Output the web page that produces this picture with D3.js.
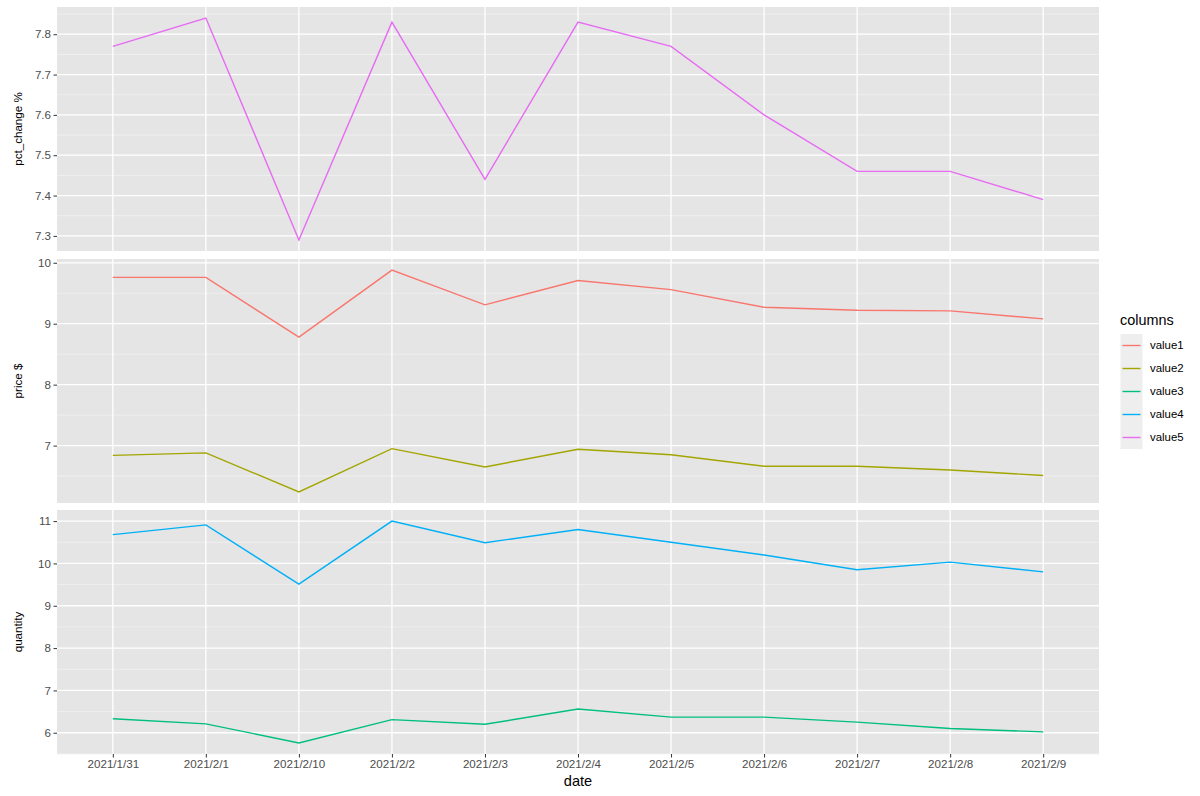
<!DOCTYPE html>
<html>
<head>
<meta charset="utf-8">
<script src="https://cdn.jsdelivr.net/npm/d3@7"></script>
<style>
  body { margin: 0; background: #fff; }
  svg { display: block; font-family: "Liberation Sans", Arial, Helvetica, sans-serif; }
  .tick-label { fill: #4d4d4d; font-size: 11.6px; }
  .axis-title { fill: #000; }
</style>
</head>
<body>
<div id="chart"></div>
<script>
// data
const dates = ['2021/1/31', '2021/2/1', '2021/2/10', '2021/2/2', '2021/2/3', '2021/2/4',
               '2021/2/5', '2021/2/6', '2021/2/7', '2021/2/8', '2021/2/9'];
const value1 = [9.76, 9.76, 8.78, 9.88, 9.31, 9.71, 9.56, 9.27, 9.22, 9.21, 9.08];
const value2 = [6.84, 6.88, 6.24, 6.95, 6.65, 6.94, 6.85, 6.66, 6.66, 6.60, 6.51];
const value3 = [6.33, 6.21, 5.76, 6.31, 6.20, 6.56, 6.37, 6.37, 6.25, 6.10, 6.02];
const value4 = [10.68, 10.91, 9.51, 11.00, 10.49, 10.80, 10.50, 10.20, 9.85, 10.03, 9.80];
const value5 = [7.77, 7.84, 7.29, 7.83, 7.44, 7.83, 7.77, 7.60, 7.46, 7.46, 7.39];

const seriesNames = ['value1', 'value2', 'value3', 'value4', 'value5'];
const seriesColors = ['#F8766D', '#A3A500', '#00BF7D', '#00B0F6', '#E76BF3'];

const pctTicks = [7.3, 7.4, 7.5, 7.6, 7.7, 7.8];
const priceTicks = [7, 8, 9, 10];
const qtyTicks = [6, 7, 8, 9, 10, 11];

const allValues = {value1, value2, value3, value4, value5};

const panels = [
  {title: 'pct_change %', keys: ['value5'], ticks: pctTicks, fmt: d3.format('.1f'), top: 7, bottom: 251},
  {title: 'price $', keys: ['value1', 'value2'], ticks: priceTicks, fmt: d3.format('d'), top: 259, bottom: 503},
  {title: 'quantity', keys: ['value4', 'value3'], ticks: qtyTicks, fmt: d3.format('d'), top: 510, bottom: 754}
];

const W = 1200, H = 796;
const left = 57, right = 1099;

const svg = d3.select('#chart').append('svg')
    .attr('width', W)
    .attr('height', H);

// discrete x scale, ggplot style expansion of 0.6 units on each side
const xScale = d3.scalePoint()
    .domain(dates)
    .range([left, right])
    .padding(0.6);

const color = d3.scaleOrdinal().domain(seriesNames).range(seriesColors);

panels.forEach((p, pi) => {
  const vals = p.keys.flatMap(k => allValues[k]);
  const lo = d3.min(vals), hi = d3.max(vals);
  const pad = (hi - lo) * 0.05;
  const y = d3.scaleLinear()
      .domain([lo - pad, hi + pad])
      .range([p.bottom, p.top]);

  const g = svg.append('g');

  g.append('rect')
      .attr('x', left)
      .attr('y', p.top)
      .attr('width', right - left)
      .attr('height', p.bottom - p.top)
      .attr('fill', '#e5e5e5');

  // minor grid at midpoints between major ticks
  const step = p.ticks[1] - p.ticks[0];
  const minor = [];
  for (let i = -1; i < p.ticks.length; i++) {
    const v = p.ticks[0] + step * (i + 0.5);
    if (y(v) >= p.top && y(v) <= p.bottom) minor.push(v);
  }
  g.selectAll('.minor')
    .data(minor)
    .join('line')
      .attr('x1', left).attr('x2', right)
      .attr('y1', d => y(d)).attr('y2', d => y(d))
      .attr('stroke', '#f4f4f4')
      .attr('stroke-width', 0.7);

  g.selectAll('.major-y')
    .data(p.ticks)
    .join('line')
      .attr('x1', left).attr('x2', right)
      .attr('y1', d => y(d)).attr('y2', d => y(d))
      .attr('stroke', '#fff')
      .attr('stroke-width', 1.3);

  g.selectAll('.major-x')
    .data(dates)
    .join('line')
      .attr('x1', d => xScale(d)).attr('x2', d => xScale(d))
      .attr('y1', p.top).attr('y2', p.bottom)
      .attr('stroke', '#fff')
      .attr('stroke-width', 1.3);

  // y axis
  const yAxis = d3.axisLeft(y)
      .tickValues(p.ticks)
      .tickFormat(p.fmt)
      .tickSize(3.5)
      .tickPadding(2.5);
  const yAxisG = g.append('g')
      .attr('transform', `translate(${left},0)`)
      .call(yAxis);
  yAxisG.select('.domain').remove();
  yAxisG.selectAll('.tick line').attr('stroke', '#333').attr('stroke-width', 1);
  yAxisG.selectAll('.tick text')
      .attr('class', 'tick-label')
      .attr('font-family', null)
      .attr('fill', '#4d4d4d');

  g.append('text')
      .attr('class', 'axis-title')
      .attr('transform', `translate(22,${(p.top + p.bottom) / 2}) rotate(-90)`)
      .style('text-anchor', 'middle')
      .style('font-size', '11.6px')
      .text(p.title);

  // lines
  const line = d3.line()
      .x((d, i) => xScale(dates[i]))
      .y(d => y(d));

  g.selectAll('.series')
    .data(p.keys)
    .join('path')
      .attr('fill', 'none')
      .attr('stroke', d => color(d))
      .attr('stroke-width', 1.4)
      .attr('d', d => line(allValues[d]));

  if (pi === panels.length - 1) {
    const xAxis = d3.axisBottom(xScale)
        .tickSize(3.5)
        .tickPadding(2.5);
    const xAxisG = g.append('g')
        .attr('transform', `translate(0,${p.bottom})`)
        .call(xAxis);
    xAxisG.select('.domain').remove();
    xAxisG.selectAll('.tick line').attr('stroke', '#333').attr('stroke-width', 1);
    xAxisG.selectAll('.tick text')
        .attr('class', 'tick-label')
        .attr('font-family', null)
        .attr('fill', '#4d4d4d');

    g.append('text')
        .attr('class', 'axis-title')
        .attr('x', (left + right) / 2)
        .attr('y', 786)
        .style('text-anchor', 'middle')
        .style('font-size', '14.6px')
        .text('date');
  }
});

// legend
const legend = svg.append('g')
    .attr('transform', 'translate(1120,0)');

legend.append('text')
    .attr('x', 0)
    .attr('y', 325)
    .style('font-size', '14.4px')
    .text('columns');

const keyH = 23;
const legendItems = legend.selectAll('.legend-item')
  .data(seriesNames)
  .join('g')
    .attr('class', 'legend-item')
    .attr('transform', (d, i) => `translate(0, ${334 + i * keyH})`);

legendItems.append('rect')
    .attr('x', 0.5)
    .attr('width', 22)
    .attr('height', keyH)
    .attr('fill', '#eeeeee');

legendItems.append('line')
    .attr('x1', 2.5).attr('x2', 20.5)
    .attr('y1', keyH / 2).attr('y2', keyH / 2)
    .attr('stroke', d => color(d))
    .attr('stroke-width', 1.4);

legendItems.append('text')
    .attr('x', 30)
    .attr('y', keyH / 2)
    .attr('dy', '0.35em')
    .style('font-size', '11.4px')
    .text(d => d);
</script>
</body>
</html>
